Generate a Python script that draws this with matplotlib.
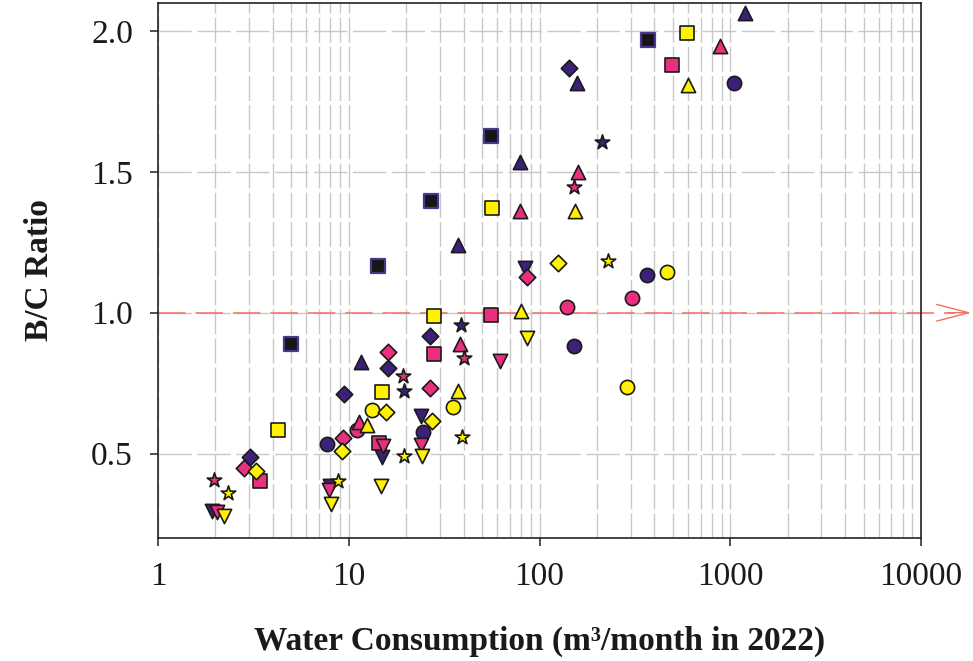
import matplotlib
matplotlib.use("Agg")
import matplotlib.pyplot as plt
from matplotlib.transforms import blended_transform_factory
import numpy as np

plt.rcParams['font.family'] = ['Liberation Serif', 'DejaVu Serif']

# ---------------- data ----------------
x_ticks = [1, 10, 100, 1000, 10000]
x_tick_labels = ["1", "10", "100", "1000", "10000"]
y_ticks = [0.5, 1.0, 1.5, 2.0]
y_tick_labels = ["0.5", "1.0", "1.5", "2.0"]

# purple series
pu_sq_x = [5.00, 14.3, 26.9, 55.5, 371]
pu_sq_y = [0.888, 1.165, 1.396, 1.627, 1.969]
pu_ci_x = [7.73, 24.4, 151.6, 367, 1051]
pu_ci_y = [0.534, 0.578, 0.881, 1.133, 1.816]
pu_tu_x = [11.66, 37.25, 78.9, 157, 1200]
pu_tu_y = [0.824, 1.240, 1.535, 1.816, 2.065]
pu_td_x = [1.92, 8.01, 14.85, 23.8, 83.8]
pu_td_y = [0.296, 0.385, 0.489, 0.632, 1.158]
pu_di_x = [3.04, 9.49, 15.97, 26.56, 142.7]
pu_di_y = [0.487, 0.713, 0.802, 0.916, 1.869]
pu_st_x = [19.4, 38.6, 212.8]
pu_st_y = [0.721, 0.955, 1.606]

# pink series
pk_sq_x = [3.44, 14.33, 27.9, 55.5, 496]
pk_sq_y = [0.402, 0.537, 0.855, 0.991, 1.880]
pk_ci_x = [11.1, 139.3, 306]
pk_ci_y = [0.582, 1.019, 1.051]
pk_tu_x = [11.38, 38.2, 78.9, 159, 887]
pk_tu_y = [0.611, 0.888, 1.361, 1.499, 1.947]
pk_td_x = [2.04, 7.92, 15.2, 23.8, 61.9]
pk_td_y = [0.293, 0.370, 0.527, 0.531, 0.827]
pk_di_x = [2.83, 9.38, 15.97, 26.56, 85.9]
pk_di_y = [0.448, 0.556, 0.859, 0.733, 1.126]
pk_st_x = [1.97, 19.15, 40.1, 151.6]
pk_st_y = [0.405, 0.774, 0.838, 1.446]

# yellow series
ye_sq_x = [4.27, 14.85, 27.9, 56.2, 595]
ye_sq_y = [0.582, 0.717, 0.987, 1.371, 1.994]
ye_ci_x = [13.3, 35.1, 288, 467]
ye_ci_y = [0.654, 0.664, 0.735, 1.144]
ye_tu_x = [12.5, 37.25, 79.8, 153.5, 602]
ye_tu_y = [0.601, 0.721, 1.005, 1.361, 1.809]
ye_td_x = [2.22, 8.11, 14.7, 24.1, 85.9]
ye_td_y = [0.278, 0.321, 0.385, 0.492, 0.912]
ye_di_x = [3.27, 9.27, 15.6, 27.2, 125]
ye_di_y = [0.437, 0.510, 0.647, 0.617, 1.176]
ye_st_x = [2.33, 8.83, 19.4, 39.1, 229]
ye_st_y = [0.360, 0.402, 0.492, 0.559, 1.183]

threshold = 1.0

# ---------------- styles ----------------
PURPLE = "#3d2179"
PINK = "#e8307f"
YELLOW = "#fff200"
EDGE = "#1a1a1a"
RED = "#f2705e"

fig = plt.figure(figsize=(9.73, 6.61), dpi=100)
ax = fig.add_axes([158/973, 1-538/661, (921-158)/973, (538-3)/661])

ax.set_xscale('log')
ax.set_xlim(1, 10000)
ax.set_ylim(0.2, 2.1)

# grid
ax.set_axisbelow(True)
ax.grid(True, axis='x', which='both', color='#c8c8c8', lw=1.0, ls=(0, (18, 3)), zorder=0)
ax.grid(True, axis='y', which='major', color='#c8c8c8', lw=1.0, ls=(0, (24, 4)), zorder=0)

# threshold line with arrow
trans = blended_transform_factory(ax.transAxes, ax.transData)
ax.plot([0, 1.045], [threshold, threshold], transform=trans, color=RED,
        lw=1.1, ls=(0, (18, 6.5)), clip_on=False, zorder=1.5)
ax.annotate('', xy=(1.066, threshold), xycoords=trans,
            xytext=(1.035, threshold), textcoords=trans,
            arrowprops=dict(arrowstyle='->,head_length=2.3,head_width=0.6',
                            color=RED, lw=1.0, shrinkA=0, shrinkB=0),
            annotation_clip=False, zorder=1.5)

def sc(x, y, marker, face, s, edge=EDGE, lw=1.2):
    ax.scatter(x, y, marker=marker, s=s, facecolor=face, edgecolor=edge,
               linewidths=lw, zorder=3)

groups = [
    (PURPLE, pu_sq_x, pu_sq_y, pu_ci_x, pu_ci_y, pu_tu_x, pu_tu_y,
     pu_td_x, pu_td_y, pu_di_x, pu_di_y, pu_st_x, pu_st_y),
    (PINK, pk_sq_x, pk_sq_y, pk_ci_x, pk_ci_y, pk_tu_x, pk_tu_y,
     pk_td_x, pk_td_y, pk_di_x, pk_di_y, pk_st_x, pk_st_y),
    (YELLOW, ye_sq_x, ye_sq_y, ye_ci_x, ye_ci_y, ye_tu_x, ye_tu_y,
     ye_td_x, ye_td_y, ye_di_x, ye_di_y, ye_st_x, ye_st_y),
]

for (col, sqx, sqy, cix, ciy, tux, tuy, tdx, tdy, dix, diy, stx, sty) in groups:
    if col == PURPLE:
        sc(sqx, sqy, 's', '#161616', 88, edge='#4a3590', lw=1.6)
    else:
        sc(sqx, sqy, 's', col, 88)
    sc(cix, ciy, 'o', col, 105)
    sc(tux, tuy, '^', col, 105)
    sc(tdx, tdy, 'v', col, 105)
    sc(dix, diy, 'D', col, 70)
    sc(stx, sty, '*', col, 120)

# ticks
ax.set_xticks(x_ticks)
ax.set_xticklabels(x_tick_labels)
ax.set_yticks(y_ticks)
ax.set_yticklabels(y_tick_labels)
ax.tick_params(axis='both', which='major', direction='out', length=6, width=1.1,
               color='#222222', labelsize=24, labelcolor='#1a1a1a')
ax.tick_params(axis='x', which='major', pad=11)
ax.tick_params(axis='y', which='major', pad=12)
ax.tick_params(axis='x', which='minor', length=0)

for sp in ax.spines.values():
    sp.set_linewidth(1.2)
    sp.set_color('#222222')

ax.set_xlabel('Water Consumption (m³/month in 2022)', fontsize=24,
              fontweight='bold', labelpad=24, color='#1a1a1a')
ax.set_ylabel('B/C Ratio', fontsize=24, fontweight='bold', labelpad=26,
              color='#1a1a1a')

fig.savefig('out.png', dpi=100)
